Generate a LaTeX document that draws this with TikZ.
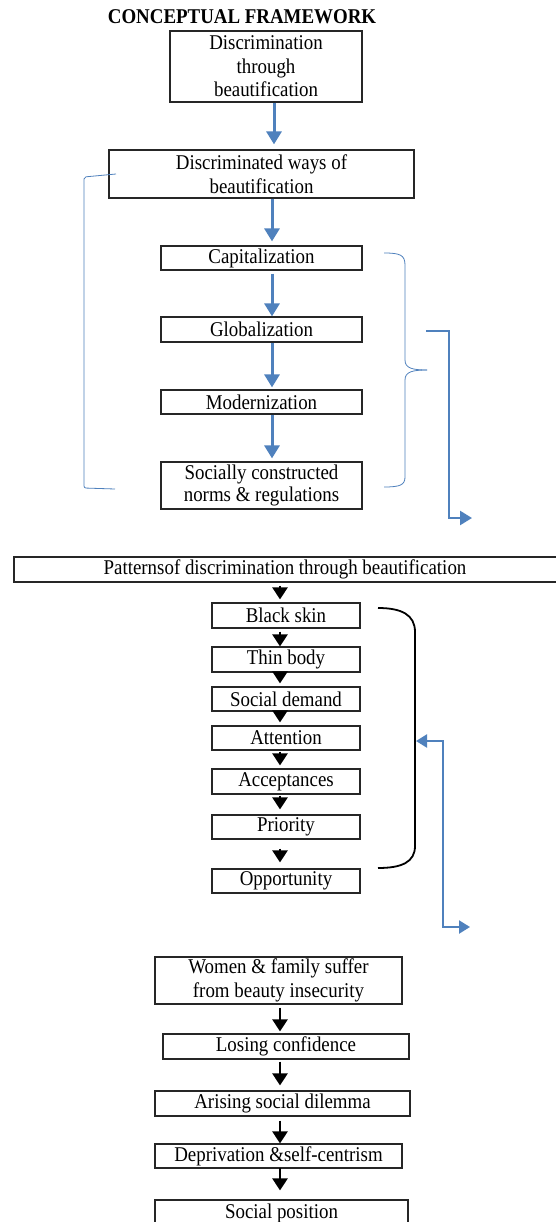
\documentclass[tikz,border=0pt]{standalone}
\usepackage{fontspec}
\setmainfont{Liberation Serif}[FakeStretch=0.9]
\usetikzlibrary{arrows.meta,calc}
\definecolor{bblue}{RGB}{79,129,189}
\begin{document}
\begin{tikzpicture}[x=1pt,y=-1pt,
  box/.style={draw=black!85, line width=1.2pt, inner sep=0pt, align=center,
    font=\fontsize{21}{23.5}\selectfont},
  titletext/.style={font=\fontsize{21}{23}\selectfont\bfseries, inner sep=0pt},
  barrow/.style={draw=bblue, line width=3pt, -{Triangle[width=15pt,length=13pt]}},
  karrow/.style={draw=black, line width=2.6pt, -{Triangle[width=15pt,length=12pt]}},
  elbowarrow/.style={draw=bblue, line width=2.5pt, -{Triangle[width=14pt,length=12pt]}},
  elbowboth/.style={draw=bblue, line width=2.2pt, {Triangle[width=13pt,length=11pt]}-{Triangle[width=13pt,length=11pt]}},
  thinbrace/.style={draw=bblue, line width=0.8pt},
  blackbrace/.style={draw=black, line width=1.8pt}]
\useasboundingbox (0,0) rectangle (556,1222);
\fill[white] (0,0) rectangle (556,1222);

% title
\node[titletext] (title) at (242,17) {CONCEPTUAL FRAMEWORK};

% upper section
\node[box, minimum width=192pt, minimum height=71pt] (box1) at (266,66.5) {Discrimination\\through\\beautification};
\node[box, minimum width=305pt, minimum height=48pt] (box2) at (261.5,174) {Discriminated ways of\\beautification};
\node[box, minimum width=201pt, minimum height=24pt] (cap) at (261.5,258) {Capitalization};
\node[box, minimum width=201pt, minimum height=25pt] (glob) at (261.5,329.5) {Globalization};
\node[box, minimum width=201pt, minimum height=24pt] (mod) at (261.5,402) {Modernization};
\node[box, minimum width=201pt, minimum height=47pt, font=\fontsize{21}{22.5}\selectfont] (soc) at (261.5,485.5) {Socially constructed\\norms \& regulations};

% middle section
\node[box, minimum width=546pt, minimum height=25pt] (pat) at (287,569.5) {};
\node[inner sep=0pt, font=\fontsize{21}{23}\selectfont] (pattext) at (285,569.5) {Patternsof discrimination through beautification};
\node[box, minimum width=148pt, minimum height=25pt] (bs) at (286,615.5) {Black skin};
\node[box, minimum width=148pt, minimum height=25pt] (thin) at (286,659.5) {Thin body};
\node[box, minimum width=148pt, minimum height=24pt] (sd) at (286,699) {Social demand};
\node[box, minimum width=148pt, minimum height=24pt] (att) at (286,738) {Attention};
\node[box, minimum width=148pt, minimum height=25pt] (acc) at (286,781.5) {Acceptances};
\node[box, minimum width=148pt, minimum height=24pt] (pri) at (286,827) {Priority};
\node[box, minimum width=148pt, minimum height=24pt] (opp) at (286,881) {Opportunity};

% lower section
\node[box, minimum width=247pt, minimum height=47pt] (women) at (278.5,980.5) {Women \& family suffer\\from beauty insecurity};
\node[box, minimum width=246pt, minimum height=25pt] (losing) at (286,1046.5) {Losing confidence};
\node[box, minimum width=255pt, minimum height=25pt] (arising) at (282.5,1103.5) {Arising social dilemma};
\node[box, minimum width=247pt, minimum height=24pt] (depriv) at (278.5,1156) {Deprivation \&self-centrism};
\node[box, minimum width=253pt, minimum height=26pt] (socpos) at (281.5,1213) {Social position};

% columns for arrows
\coordinate (cA) at (274,0);
\coordinate (cB) at (272,0);
\coordinate (cK) at (280,0);

% blue arrows
\draw[barrow] (box1.south -| cA) -- ($(box2.north -| cA)+(0,-5)$);
\draw[barrow] (box2.south -| cB) -- ($(cap.north -| cB)+(0,-4)$);
\draw[barrow] ($(cap.south -| cB)+(0,3)$) -- (glob.north -| cB);
\draw[barrow] (glob.south -| cB) -- ($(mod.north -| cB)+(0,-2)$);
\draw[barrow] (mod.south -| cB) -- ($(soc.north -| cB)+(0,-3)$);

% black arrows (middle)
\draw[karrow] ($(pat.south -| cK)+(0,3)$) -- ($(bs.north -| cK)+(0,-3)$);
\draw[karrow] ($(bs.south -| cK)+(0,3)$) -- (thin.north -| cK);
\draw[karrow] (thin.south -| cK) -- ($(sd.north -| cK)+(0,-3)$);
\draw[karrow] (sd.south -| cK) -- ($(att.north -| cK)+(0,-3)$);
\draw[karrow] ($(att.south -| cK)+(0,1)$) -- ($(acc.north -| cK)+(0,-3)$);
\draw[karrow] ($(acc.south -| cK)+(0,1)$) -- ($(pri.north -| cK)+(0,-5)$);
\draw[karrow] ($(pri.south -| cK)+(0,9)$) -- ($(opp.north -| cK)+(0,-6)$);

% black arrows (lower)
\draw[karrow] ($(women.south -| cK)+(0,3)$) -- ($(losing.north -| cK)+(0,-2)$);
\draw[karrow] ($(losing.south -| cK)+(0,2)$) -- ($(arising.north -| cK)+(0,-5)$);
\draw[karrow] ($(arising.south -| cK)+(0,4)$) -- (depriv.north -| cK);
\draw[karrow] ($(depriv.south -| cK)+(0,-1)$) -- ($(socpos.north -| cK)+(0,-9)$);

% left thin bracket
\draw[thinbrace, rounded corners=2pt] (116,174) -- (84,177) -- (84,488) -- (115,489);

% right thin brace
\draw[thinbrace] (384,253) .. controls (400,253) and (405,255) .. (405,265)
  -- (405,360) .. controls (405,368) and (412,370) .. (427,370);
\draw[thinbrace] (427,370) .. controls (412,370) and (405,372) .. (405,380)
  -- (405,477) .. controls (405,485) and (400,487) .. (384,487);

% elbow arrow 1
\coordinate (e1s) at (426,331);
\coordinate (e1b) at (449,518);
\coordinate (e1e) at (472,518);
\draw[elbowarrow] (e1s) -| (e1b) -- (e1e);

% black brace
\draw[blackbrace] (378,608) .. controls (402,608) and (415,615) .. (415,632)
  -- (415,846) .. controls (415,862) and (402,868) .. (378,868);

% elbow arrow 2 (double headed)
\coordinate (e2s) at (416,741);
\coordinate (e2b) at (443,927);
\coordinate (e2e) at (470,927);
\draw[elbowboth] (e2s) -| (e2b) -- (e2e);
\end{tikzpicture}
\end{document}
